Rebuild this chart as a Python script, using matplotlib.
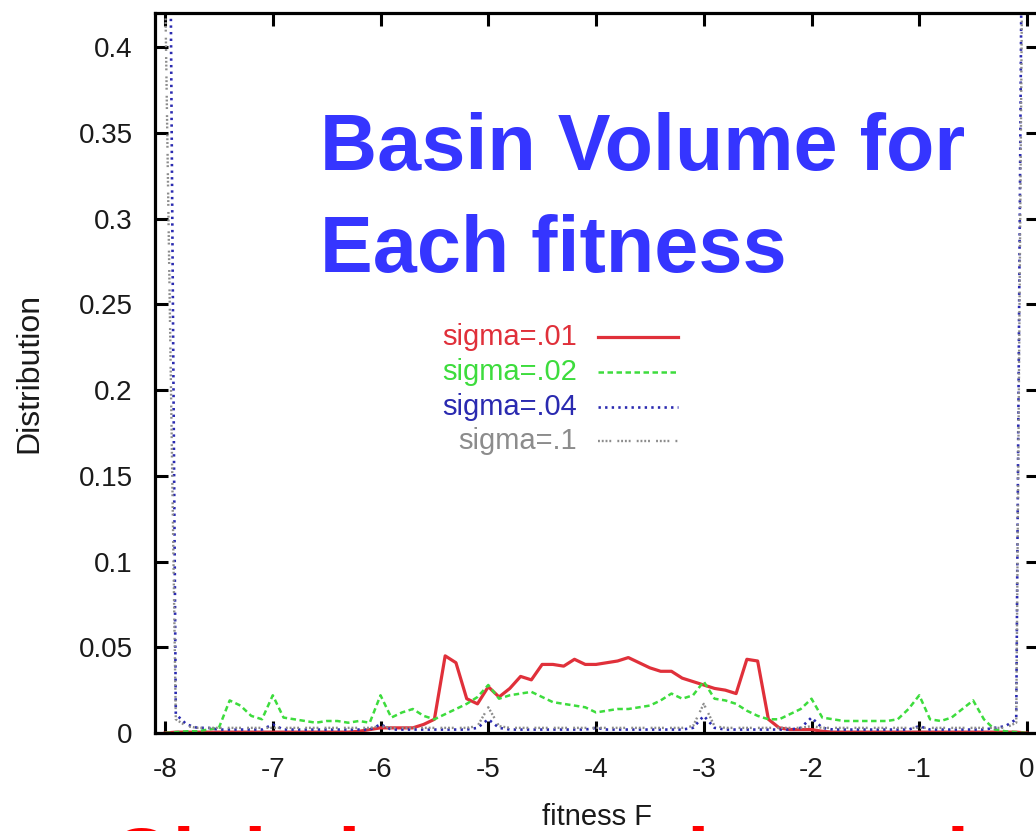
import matplotlib
matplotlib.use("Agg")
from matplotlib import pyplot as plt
import numpy as np

plt.rcParams['font.family'] = ['Liberation Sans', 'DejaVu Sans']

# fitness grid shared by all four runs
fit = np.round(np.arange(-8.0, 0.001, 0.1), 1)

dist_01 = [0.0, 0.0005, 0.0005, 0.0005, 0.0005, 0.0005, 0.0005, 0.0005, 0.0005, 0.0005,
           0.0005, 0.0005, 0.0005, 0.0005, 0.0005, 0.0005, 0.0005, 0.0005, 0.001, 0.002,
           0.003, 0.003, 0.003, 0.003, 0.005, 0.008, 0.045, 0.041, 0.020, 0.017,
           0.027, 0.021, 0.026, 0.033, 0.031, 0.040, 0.040, 0.039, 0.043, 0.040,
           0.040, 0.041, 0.042, 0.044, 0.041, 0.038, 0.036, 0.036, 0.032, 0.030,
           0.028, 0.026, 0.025, 0.023, 0.043, 0.042, 0.008, 0.003, 0.002, 0.002,
           0.002, 0.001, 0.0005, 0.0005, 0.0005, 0.0005, 0.0005, 0.0005, 0.0005, 0.0005,
           0.0005, 0.0005, 0.0005, 0.0005, 0.0005, 0.0005, 0.0005, 0.0005, 0.0005, 0.0005,
           0.0]

dist_02 = [0.0, 0.0005, 0.001, 0.001, 0.002, 0.003, 0.019, 0.016, 0.010, 0.008,
           0.022, 0.009, 0.008, 0.007, 0.006, 0.007, 0.007, 0.006, 0.007, 0.006,
           0.022, 0.009, 0.012, 0.014, 0.010, 0.008, 0.011, 0.014, 0.017, 0.021,
           0.028, 0.020, 0.022, 0.023, 0.024, 0.021, 0.018, 0.017, 0.016, 0.015,
           0.012, 0.013, 0.014, 0.014, 0.015, 0.016, 0.019, 0.023, 0.020, 0.022,
           0.030, 0.020, 0.019, 0.017, 0.013, 0.010, 0.008, 0.008, 0.011, 0.014,
           0.020, 0.009, 0.008, 0.007, 0.007, 0.007, 0.007, 0.007, 0.008, 0.014,
           0.022, 0.008, 0.007, 0.009, 0.014, 0.019, 0.008, 0.002, 0.001, 0.0005,
           0.0]

# broader runs pile up at the two ends of the fitness range
dist_04 = [0.9, 0.011, 0.005, 0.003, 0.003, 0.002, 0.002, 0.002, 0.002, 0.002,
           0.005, 0.002, 0.002, 0.002, 0.002, 0.002, 0.002, 0.002, 0.002, 0.002,
           0.005, 0.002, 0.002, 0.002, 0.002, 0.002, 0.002, 0.002, 0.002, 0.003,
           0.008, 0.003, 0.002, 0.002, 0.002, 0.002, 0.002, 0.002, 0.002, 0.002,
           0.003, 0.002, 0.002, 0.002, 0.002, 0.002, 0.002, 0.002, 0.002, 0.003,
           0.010, 0.003, 0.002, 0.002, 0.002, 0.002, 0.002, 0.002, 0.002, 0.003,
           0.009, 0.003, 0.002, 0.002, 0.002, 0.002, 0.002, 0.002, 0.002, 0.002,
           0.004, 0.002, 0.002, 0.002, 0.002, 0.002, 0.002, 0.003, 0.004, 0.008,
           0.9]

dist_1 = [0.44, 0.008, 0.004, 0.003, 0.003, 0.003, 0.003, 0.003, 0.003, 0.003,
          0.003, 0.003, 0.003, 0.003, 0.003, 0.003, 0.003, 0.003, 0.003, 0.003,
          0.004, 0.003, 0.003, 0.003, 0.003, 0.003, 0.003, 0.003, 0.003, 0.004,
          0.015, 0.004, 0.003, 0.003, 0.003, 0.003, 0.003, 0.003, 0.003, 0.003,
          0.003, 0.003, 0.003, 0.003, 0.003, 0.003, 0.003, 0.003, 0.003, 0.004,
          0.017, 0.004, 0.003, 0.003, 0.003, 0.003, 0.003, 0.003, 0.003, 0.003,
          0.004, 0.003, 0.003, 0.003, 0.003, 0.003, 0.003, 0.003, 0.003, 0.003,
          0.003, 0.003, 0.003, 0.003, 0.003, 0.003, 0.003, 0.003, 0.003, 0.006,
          0.8]

labels = ['sigma=.01', 'sigma=.02', 'sigma=.04', 'sigma=.1']
colors = ['#e0303a', '#3ddc3d', '#2a2ab0', '#8c8c8c']
styles = [dict(ls='-', lw=2.3),
          dict(ls=(0, (2.2, 1.4)), lw=1.8),
          dict(ls=(0, (0.9, 1.6)), lw=1.9),
          dict(ls=(0, (0.8, 0.8, 0.8, 0.8, 0.8, 0.8, 0.8, 2.6)), lw=1.7)]
series = [dist_01, dist_02, dist_04, dist_1]

fig = plt.figure(figsize=(10.36, 8.31), dpi=100)
ax = fig.add_axes([155/1036, 98/831, 883/1036, 720/831])

for vals, col, st in zip(series, colors, styles):
    ax.plot(fit, vals, color=col, **st)

ax.set_xlim(-8.093, 0.102)
ax.set_ylim(0, 0.42)
ax.set_xticks(np.arange(-8, 0.5, 1))
ax.set_xticklabels(['-8', '-7', '-6', '-5', '-4', '-3', '-2', '-1', '0'])
ax.set_yticks(np.arange(0, 0.41, 0.05))
ax.set_yticklabels(['0', '0.05', '0.1', '0.15', '0.2', '0.25', '0.3', '0.35', '0.4'])
ax.tick_params(direction='in', length=9, width=2.2, top=True, right=True,
               labelsize=20, labelcolor='#1a1a1a')
ax.tick_params(axis='x', pad=17)
ax.tick_params(axis='y', pad=16)
for sp in ax.spines.values():
    sp.set_linewidth(2.3)

ax.set_xlabel('fitness F', fontsize=21, color='#1a1a1a')
ax.xaxis.set_label_coords(0.5, -0.097)
ax.set_ylabel('Distribution', fontsize=23, color='#1a1a1a')
ax.yaxis.set_label_coords(-0.125, 0.5)

# gnuplot style key: right aligned text followed by a line sample
key_y = [0.55, 0.501, 0.453, 0.406]
for lab, col, st, ky in zip(labels, colors, styles, key_y):
    ax.text(0.478, ky, lab, transform=ax.transAxes, ha='right', va='center',
            fontsize=21, color=col)
    ax.plot([0.502, 0.592], [ky, ky], transform=ax.transAxes, color=col, **st)

title_kw = dict(fontsize=57, fontweight='bold', color='#3535ff', va='baseline')
fig.text(320/1036, (831-170)/831, 'Basin Volume for', **title_kw)
fig.text(320/1036, (831-272)/831, 'Each fitness', **title_kw)

fig.text(50/1036, (831-884)/831, '\u27a2', fontsize=50, color='black',
         family=['DejaVu Sans'], va='baseline')
fig.text(110/1036, (831-885)/831, 'Global ones at large sigma', fontsize=58,
         fontweight='bold', color='#ff0000', va='baseline')

fig.savefig('out.png', dpi=100)
